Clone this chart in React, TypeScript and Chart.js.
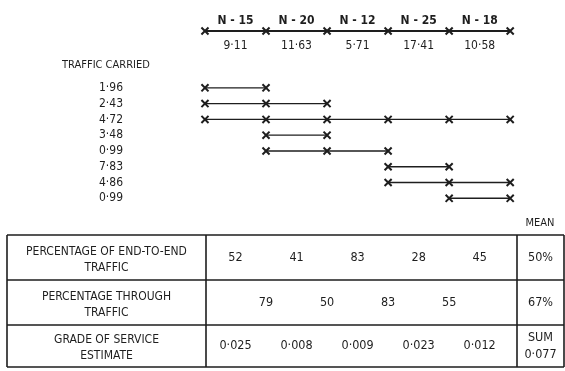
import React, { useEffect, useRef } from "react";
import { Chart, registerables } from "chart.js";
Chart.register(...registerables);

// ---- data ----
const linkNames = ["N - 15", "N - 20", "N - 12", "N - 25", "N - 18"];
const linkTraffic = ["9·11", "11·63", "5·71", "17·41", "10·58"];
const nodeIndex = [0, 1, 2, 3, 4, 5];
const routeTraffic = ["1·96", "2·43", "4·72", "3·48", "0·99", "7·83", "4·86", "0·99"];
const routeStart = [0, 0, 0, 1, 1, 3, 3, 4];
const routeEnd = [1, 2, 5, 2, 3, 4, 5, 5];
const endToEndPct = ["52", "41", "83", "28", "45"];
const throughPct = ["79", "50", "83", "55"];
const gradeOfService = ["0·025", "0·008", "0·009", "0·023", "0·012"];
const meanEndToEnd = "50%";
const meanThrough = "67%";
const sumGrade = "0·077";
const rowLabels = [
  ["PERCENTAGE OF END-TO-END", "TRAFFIC"],
  ["PERCENTAGE THROUGH", "TRAFFIC"],
  ["GRADE OF SERVICE", "ESTIMATE"],
];

// ---- layout ----
const W = 565;
const H = 371;
const AXIS_ROW = -3.6;
const FONT = "'Liberation Sans Narrow', 'DejaVu Sans Condensed', 'Roboto', sans-serif";
const INK = "#1e1e1e";
const TABLE_LEFT = 7;
const TABLE_DIV = 206;
const TABLE_MEAN = 517;
const TABLE_RIGHT = 564;
const TABLE_ROWS = [235, 280, 325, 367];

function range(a: number, b: number) {
  const out: number[] = [];
  for (let i = a; i <= b; i++) out.push(i);
  return out;
}

const overlay = {
  id: "overlay",
  afterDraw(chart: any) {
    const ctx = chart.ctx as CanvasRenderingContext2D;
    const xs = chart.scales.x;
    const ys = chart.scales.y;
    ctx.save();
    ctx.fillStyle = INK;
    ctx.textBaseline = "middle";
    // top axis labels
    const axisY = ys.getPixelForValue(AXIS_ROW);
    ctx.textAlign = "center";
    linkNames.forEach((n, i) => {
      const x = xs.getPixelForValue(i + 0.5);
      ctx.font = `bold 12px ${FONT}`;
      ctx.fillText(n, x, axisY - 10);
      ctx.font = `12px ${FONT}`;
      ctx.fillText(linkTraffic[i], x, axisY + 15);
    });
    // traffic carried
    ctx.textAlign = "left";
    ctx.font = `11px ${FONT}`;
    ctx.fillText("TRAFFIC CARRIED", 62, 65);
    ctx.font = `12px ${FONT}`;
    routeTraffic.forEach((t, i) => {
      ctx.fillText(t, 99, ys.getPixelForValue(i));
    });
    // table
    ctx.strokeStyle = INK;
    ctx.lineWidth = 1.6;
    ctx.beginPath();
    TABLE_ROWS.forEach((y) => {
      ctx.moveTo(TABLE_LEFT, y);
      ctx.lineTo(TABLE_RIGHT, y);
    });
    [TABLE_LEFT, TABLE_DIV, TABLE_MEAN, TABLE_RIGHT].forEach((x) => {
      ctx.moveTo(x, TABLE_ROWS[0]);
      ctx.lineTo(x, TABLE_ROWS[3]);
    });
    ctx.stroke();
    ctx.textAlign = "center";
    ctx.font = `11px ${FONT}`;
    ctx.fillText("MEAN", 540, 223);
    const labelX = (TABLE_LEFT + TABLE_DIV) / 2;
    const meanX = (TABLE_MEAN + TABLE_RIGHT) / 2;
    rowLabels.forEach((lines, r) => {
      const m = (TABLE_ROWS[r] + TABLE_ROWS[r + 1]) / 2;
      ctx.font = `12px ${FONT}`;
      ctx.fillText(lines[0], labelX, m - 6);
      ctx.fillText(lines[1], labelX, m + 10);
    });
    ctx.font = `12.5px ${FONT}`;
    const mid = (r: number) => (TABLE_ROWS[r] + TABLE_ROWS[r + 1]) / 2;
    endToEndPct.forEach((v, i) => ctx.fillText(v, xs.getPixelForValue(i + 0.5), mid(0)));
    throughPct.forEach((v, i) => ctx.fillText(v, xs.getPixelForValue(i + 1), mid(1)));
    gradeOfService.forEach((v, i) => ctx.fillText(v, xs.getPixelForValue(i + 0.5), mid(2)));
    ctx.fillText(meanEndToEnd, meanX, mid(0));
    ctx.fillText(meanThrough, meanX, mid(1));
    ctx.fillText("SUM", meanX, mid(2) - 8);
    ctx.fillText(sumGrade, meanX, mid(2) + 9);
    ctx.restore();
  },
};

export default function App() {
  const ref = useRef<HTMLCanvasElement | null>(null);
  useEffect(() => {
    if (!ref.current) return;
    const lineStyle = {
      borderColor: INK,
      borderWidth: 1.4,
      pointStyle: "crossRot" as const,
      pointRadius: 5,
      pointBorderWidth: 2,
      pointBorderColor: INK,
      pointBackgroundColor: INK,
      showLine: true,
      fill: false,
    };
    const datasets: any[] = [
      {
        label: "links",
        data: nodeIndex.map((n) => ({ x: n, y: AXIS_ROW })),
        ...lineStyle,
        borderWidth: 1.8,
      },
      ...routeTraffic.map((t, r) => ({
        label: t,
        data: range(routeStart[r], routeEnd[r]).map((n) => ({ x: n, y: r })),
        ...lineStyle,
      })),
    ];
    const chart = new Chart(ref.current, {
      type: "scatter",
      data: { datasets },
      options: {
        animation: false,
        responsive: false,
        devicePixelRatio: 1,
        layout: { padding: 0 },
        plugins: { legend: { display: false }, tooltip: { enabled: false } },
        scales: {
          x: { type: "linear", min: -3.243, max: 5.783, display: false },
          y: { type: "linear", reverse: true, min: -5.122, max: 17.5, display: false },
        },
      },
      plugins: [overlay],
    } as any);
    return () => chart.destroy();
  }, []);
  return (
    <div style={{ position: "fixed", left: 0, top: 0, width: W, height: H, background: "#fff" }}>
      <canvas ref={ref} width={W} height={H} style={{ display: "block" }} />
    </div>
  );
}
